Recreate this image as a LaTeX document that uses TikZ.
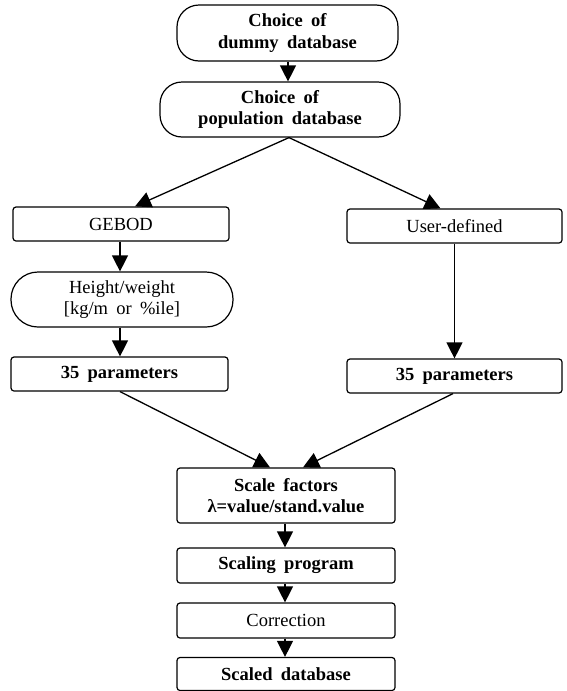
\documentclass[tikz,border=0pt]{standalone}
\usepackage{fontspec}
\setmainfont{Liberation Serif}
\usetikzlibrary{arrows.meta,calc}
\newcommand{\widespaces}{\spaceskip=0.45em\relax}
\begin{document}
\begin{tikzpicture}[x=1pt,y=-1pt,
  every node/.style={font=\fontsize{18.5}{21.5}\selectfont, align=center, inner sep=0pt, line width=1.2pt, execute at begin node=\widespaces},
  roundbox/.style={draw, rounded corners=22pt},
  rectbox/.style={draw, rounded corners=3pt},
  arr/.style={line width=1.3pt, -{Triangle[length=16pt,width=16pt]}},
  bold/.style={font=\fontsize{18.5}{21.5}\selectfont\bfseries}]
\useasboundingbox (0,0) rectangle (566,691);
\node[roundbox, bold, minimum width=221pt, minimum height=56pt] (b1) at (287.5,33) {Choice of\\dummy database};
\node[roundbox, bold, minimum width=240pt, minimum height=55pt] (b2) at (280,109.5) {Choice of\\population database};
\node[rectbox, minimum width=216pt, minimum height=34pt] (gebod) at (121,224) {GEBOD};
\node[rectbox, minimum width=215pt, minimum height=34pt] (user) at (454.5,226) {User-defined};
\node[draw, rounded corners=27pt, minimum width=222pt, minimum height=55pt] (hw) at (122,299.5) {Height/weight\\{[}kg/m or \%ile{]}};
\node[rectbox, bold, minimum width=217pt, minimum height=34pt] (pl) at (119.5,374) {35 parameters};
\node[rectbox, bold, minimum width=215pt, minimum height=34pt] (pr) at (454.5,376) {35 parameters};
\node[rectbox, bold, minimum width=218pt, minimum height=55pt] (sf) at (286,495.5) {Scale factors\\λ=value/stand.value};
\node[rectbox, bold, minimum width=218pt, minimum height=35pt] (sp) at (286,565.5) {Scaling program};
\node[rectbox, minimum width=218pt, minimum height=35pt] (cor) at (286,620.5) {Correction};
\node[rectbox, bold, minimum width=218pt, minimum height=33pt] (sd) at (286,674) {Scaled database};
\draw[arr] ([xshift=0.5pt]b1.south) -- ([xshift=8pt]b2.north);
\draw[arr] ([xshift=9pt]b2.south) -- ([xshift=14pt]gebod.north);
\draw[arr] ([xshift=9pt]b2.south) -- ([xshift=-14pt]user.north);
\draw[arr] ([xshift=-1pt]gebod.south) -- ([xshift=-2pt]hw.north);
\draw[arr] ([xshift=-2pt]hw.south) -- ([xshift=0.5pt]pl.north);
\draw[arr] (user.south) -- (pr.north);
\draw[arr] ([xshift=0.5pt]pl.south) -- ([xshift=-16pt]sf.north);
\draw[arr] ([xshift=-1.5pt]pr.south) -- ([xshift=17pt]sf.north);
\draw[arr] ([xshift=-1pt]sf.south) -- ([xshift=-1pt]sp.north);
\draw[arr] ([xshift=-1pt]sp.south) -- ([xshift=-1pt]cor.north);
\draw[arr] ([xshift=-1pt]cor.south) -- ([xshift=-1pt]sd.north);
\end{tikzpicture}
\end{document}
